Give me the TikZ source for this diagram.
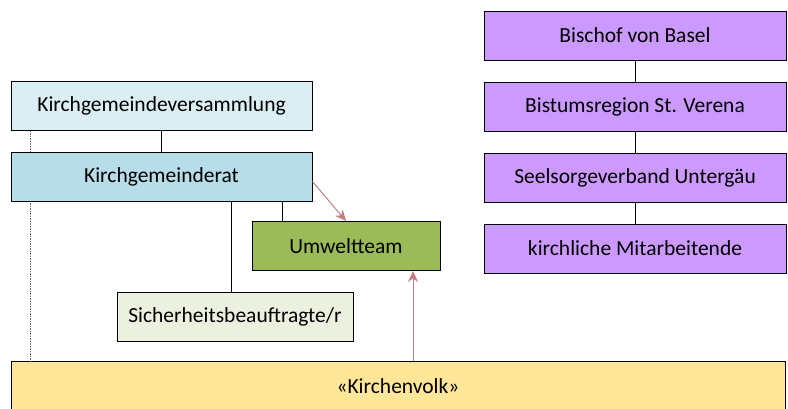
\documentclass[tikz,border=0pt]{standalone}
\usepackage{fontspec}
\setmainfont{Carlito}
\usetikzlibrary{positioning, arrows.meta, calc}
\definecolor{versblue}{HTML}{DAEEF3}
\definecolor{ratblue}{HTML}{B7DEE8}
\definecolor{umweltgreen}{HTML}{9BBB59}
\definecolor{sichgreen}{HTML}{EBF1DE}
\definecolor{volkyellow}{HTML}{FFE699}
\definecolor{bistumpurple}{HTML}{CC99FF}
\definecolor{linkred}{HTML}{C0807E}
\tikzset{
  orgbox/.style   = {draw, line width=1pt, minimum height=49pt, align=center, font=\fontsize{21.5}{25}\selectfont, inner sep=0pt},
  bistum/.style   = {orgbox, minimum width=302pt, fill=bistumpurple},
  link/.style     = {line width=1pt},
  seelink/.style  = {line width=1.2pt, dash pattern=on 1.5pt off 1pt, black!60},
  infolink/.style = {-{Stealth[length=11pt,width=10pt]}, line width=1pt, linkred}
}

\begin{document}
\begin{tikzpicture}[x=1pt, y=-1pt]
  \useasboundingbox (0,0) rectangle (788,408);
  \clip (0,0) rectangle (788,408);

  % left side: Kirchgemeinde
  \node[orgbox, minimum width=301pt, fill=versblue] (kgv) at (161.5,105.5) {Kirchgemeindeversammlung};
  \node[orgbox, minimum width=774pt, fill=volkyellow] (volk) at (398,386) {«Kirchenvolk»};
  \coordinate (seetop) at ($(kgv.south west)+(20,0)$);
  \draw[seelink] (seetop) -- (seetop |- volk.north);
  \node[orgbox, minimum width=301pt, fill=ratblue, below=21pt of kgv] (kgr) {Kirchgemeinderat};
  \node[orgbox, minimum width=188pt, fill=umweltgreen] (umwelt) at (346,246) {Umweltteam};
  \node[orgbox, minimum width=236pt, fill=sichgreen] (sich) at (235,317) {Sicherheitsbeauftragte/r};

  % right side: Bistum
  \node[bistum] (bischof) at (635,35.5) {Bischof von Basel};
  \node[bistum, below=21pt of bischof] (region) {Bistumsregion St. Verena};
  \node[bistum, below=21pt of region]  (verband) {Seelsorgeverband Untergäu};
  \node[bistum, below=21pt of verband] (mitarb) {kirchliche Mitarbeitende};

  % connectors
  \coordinate (umwelttop) at ($(umwelt.north west)+(31,0)$);
  \coordinate (umweltin)  at ($(umwelt.south)+(67,0)$);
  \coordinate (sichtop)   at ($(sich.north)+(-4,0)$);
  \draw[link] (kgv) -- (kgr);
  \draw[link] (umwelttop) -- (umwelttop |- kgr.south);
  \draw[link] (sichtop) -- (sichtop |- kgr.south);
  \draw[link] (bischof) -- (region);
  \draw[link] (region) -- (verband);
  \draw[link] (verband) -- (mitarb);
  \draw[infolink] ([yshift=-5pt]kgr.east) -- (umwelt.north);
  \draw[infolink] (umweltin |- volk.north) -- (umweltin);
\end{tikzpicture}
\end{document}
